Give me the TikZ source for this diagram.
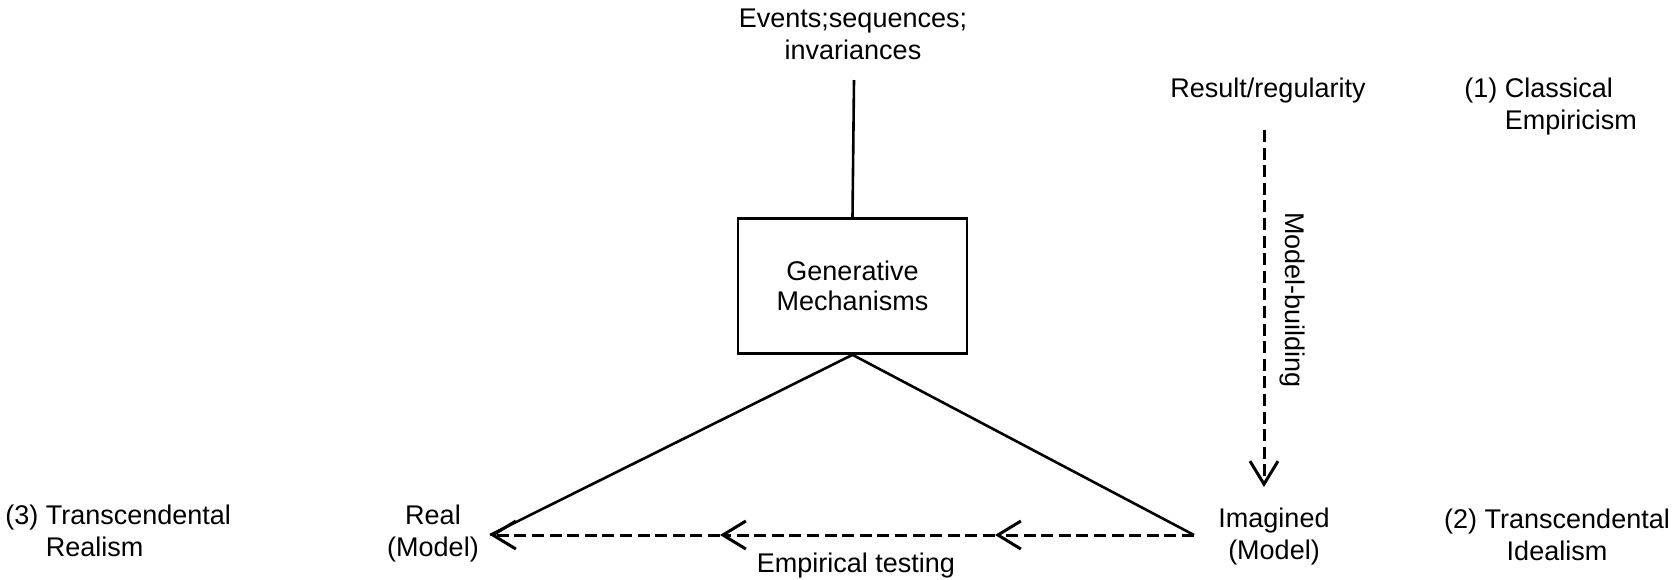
\documentclass[tikz,border=0pt]{standalone}
\usepackage{fontspec}
\setmainfont{Liberation Sans}
\usetikzlibrary{arrows.meta}
\begin{document}
\begin{tikzpicture}[x=0.5pt,y=-0.5pt,
  lbl/.style={font=\fontsize{13.5}{16}\selectfont, align=center, inner sep=0pt},
  lbll/.style={font=\fontsize{13.5}{16}\selectfont, align=left, inner sep=0pt},
  boxnode/.style={draw, line width=1.3pt, minimum width=114.5pt, minimum height=67.5pt, inner sep=0pt, font=\fontsize{13.5}{15}\selectfont, align=center},
  solidline/.style={line width=1.3pt},
  dashline/.style={line width=1.5pt, dash pattern=on 6pt off 2.8pt},
  barb/.style={-{Straight Barb[length=11.5pt,width=14pt]}}]
\useasboundingbox (0,0) rectangle (1678,579);

% labels
\node[lbl] (ev) at (853,34) {Events;sequences;\\invariances};
\node[lbl] (res) at (1268,91) {Result/regularity};
\node[lbll, anchor=west] (ce) at (1464,107) {(1) Classical\\\phantom{(1) }Empiricism};
\node[boxnode] (gm) at (852.5,286) {Generative\\Mechanisms};
\node[lbl] (real) at (433,534) {Real\\(Model)};
\node[lbl] (ima) at (1274,537) {Imagined\\(Model)};
\node[lbll, anchor=west] (tr) at (5,534) {(3) Transcendental\\\phantom{(3) }Realism};
\node[lbl] (ti) at (1557,535) {(2) Transcendental\\Idealism};
\node[lbl] (et) at (856,566) {Empirical testing};
\node[lbl, rotate=-90] (mb) at (1292,300) {Model-building};

% coordinates
\coordinate (evb) at (854,80);
\coordinate (L) at (490,535);
\coordinate (R) at (1194,535);
\coordinate (m1) at (995,535);
\coordinate (m2) at (720,535);
\coordinate (mbA) at (1264,130);
\coordinate (mbB) at (1264,487);

% connectors
\draw[solidline] (evb) -- (gm.north);
\draw[solidline, line join=miter] (L) -- (gm.south) -- (R);
\draw[dashline, barb] (R) -- (m1);
\draw[dashline, barb] (m1) -- (m2);
\draw[dashline, barb] (m2) -- (L);
\draw[dashline, barb] (mbA) -- (mbB);
\end{tikzpicture}
\end{document}
